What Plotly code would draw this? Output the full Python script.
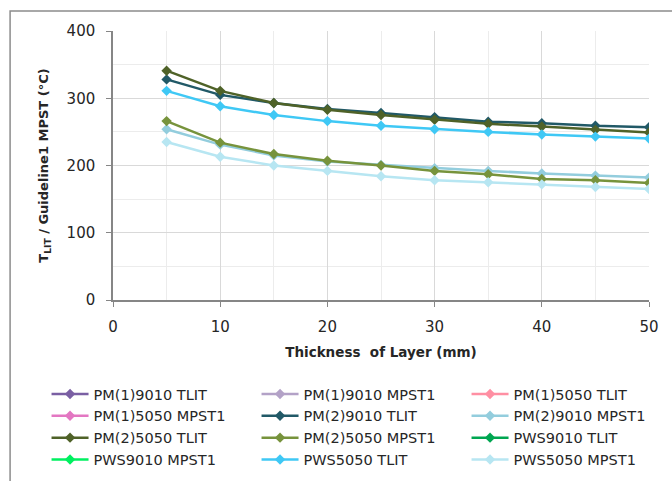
import plotly.graph_objects as go

thickness = [5, 10, 15, 20, 25, 30, 35, 40, 45, 50]

series_names = [
    "PM(1)9010 TLIT", "PM(1)9010 MPST1", "PM(1)5050 TLIT",
    "PM(1)5050 MPST1", "PM(2)9010 TLIT", "PM(2)9010 MPST1",
    "PM(2)5050 TLIT", "PM(2)5050 MPST1", "PWS9010 TLIT",
    "PWS9010 MPST1", "PWS5050 TLIT", "PWS5050 MPST1",
]

series_colors = [
    "#7A5FA3", "#B3A2C7", "#FF8FA3",
    "#E377C2", "#215967", "#93CDDD",
    "#4F6228", "#77933C", "#00A651",
    "#00F060", "#3FC8F5", "#B7E6F2",
]

pm2_9010_tlit = [328, 305, 293, 284, 278, 272, 265, 263, 259, 257]
pm2_9010_mpst1 = [254, 231, 215, 206, 201, 196, 192, 188, 185, 182]
pm2_5050_tlit = [341, 311, 293, 283, 275, 268, 262, 258, 253, 249]
pm2_5050_mpst1 = [266, 234, 217, 207, 200, 192, 187, 180, 178, 174]
pws5050_tlit = [311, 288, 275, 266, 259, 254, 250, 246, 243, 240]
pws5050_mpst1 = [235, 213, 200, 192, 184, 178, 175, 172, 168, 165]

series_values = [
    [], [], [], [],
    pm2_9010_tlit, pm2_9010_mpst1, pm2_5050_tlit, pm2_5050_mpst1,
    [], [], pws5050_tlit, pws5050_mpst1,
]

FONT = "'DejaVu Sans', sans-serif"
TEXT = "#262626"

fig = go.Figure()
for name, color, vals in zip(series_names, series_colors, series_values):
    fig.add_trace(go.Scatter(
        x=thickness[:len(vals)] if vals else [None],
        y=vals if vals else [None],
        name=name,
        mode="lines+markers",
        line=dict(color=color, width=2.5),
        marker=dict(symbol="diamond", size=8, color=color),
    ))

fig.update_layout(
    width=672, height=481,
    margin=dict(l=113, r=23, t=31, b=181, autoexpand=False),
    paper_bgcolor="white", plot_bgcolor="white",
    font=dict(family=FONT, size=15, color=TEXT),
    showlegend=True,
    legend=dict(
        orientation="h", x=-0.124, xanchor="left", y=-0.29, yanchor="top",
        entrywidth=158, entrywidthmode="pixels",
        itemwidth=37, bgcolor="rgba(0,0,0,0)",
        font=dict(family=FONT, size=14.5, color=TEXT),
    ),
    shapes=[dict(type="rect", xref="paper", yref="paper",
                 x0=-0.192, x1=1.06, y0=-0.72, y1=1.074,
                 line=dict(color="#8C8C8C", width=1.5), layer="below")],
)

fig.update_xaxes(
    range=[0, 50], dtick=10, tick0=0,
    showline=True, linecolor="#868686", linewidth=1.5,
    ticks="outside", ticklen=5, tickcolor="#868686",
    ticklabelstandoff=7,
    showgrid=True, gridcolor="#D9D9D9", gridwidth=1.2,
    minor=dict(dtick=5, showgrid=True, gridcolor="#ECECEC", gridwidth=1),
    zeroline=False,
    title=dict(text="<b>Thickness  of Layer (mm)</b>",
               font=dict(family=FONT, size=13.5, color=TEXT), standoff=13),
)
fig.update_yaxes(
    range=[0, 400], dtick=100, tick0=0,
    showline=True, linecolor="#868686", linewidth=1.5,
    ticks="outside", ticklen=5, tickcolor="#868686",
    ticklabelstandoff=8,
    showgrid=True, gridcolor="#D9D9D9", gridwidth=1.2,
    minor=dict(dtick=50, showgrid=True, gridcolor="#ECECEC", gridwidth=1),
    zeroline=False,
    title=dict(text="<b>T<sub>LIT</sub> / Guideline1 MPST (°C)</b>",
               font=dict(family=FONT, size=13, color=TEXT), standoff=15),
)

fig.write_html("out.html")
